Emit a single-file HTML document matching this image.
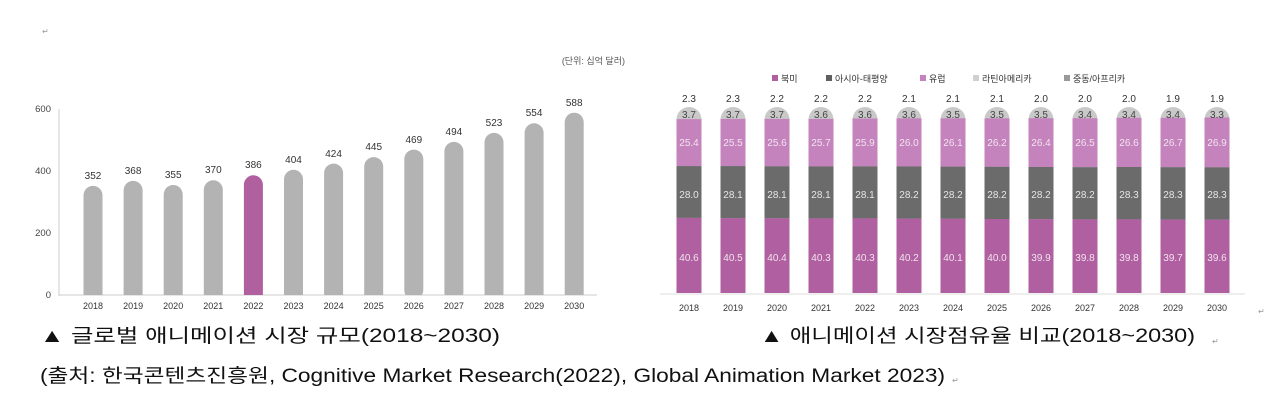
<!DOCTYPE html>
<html><head><meta charset="utf-8"><style>
html,body{margin:0;padding:0;background:#fff;}
svg{display:block;}
text{font-family:"Liberation Sans","Noto Sans CJK KR",sans-serif;}
</style></head><body>
<svg width="1280" height="406" viewBox="0 0 1280 406" xmlns="http://www.w3.org/2000/svg">
<defs>
<clipPath id="lc" clipPathUnits="userSpaceOnUse"><rect x="0" y="0" width="1280" height="295"/></clipPath>
<clipPath id="rc" clipPathUnits="userSpaceOnUse"><path d="M0,119.5 A12.5 12.5 0 0 1 25,119.5 V293 H0 Z"/></clipPath>
</defs>
<text x="42" y="34" font-size="8" fill="#999">↵</text>
<text x="625" y="64" font-size="9" fill="#555" text-anchor="end">(단위: 십억 달러)</text>
<line x1="59" y1="109" x2="59" y2="296" stroke="#ccc"/>
<line x1="59" y1="295" x2="597" y2="295" stroke="#ccc"/>
<g font-size="9.5" fill="#444" text-anchor="end">
<text x="51" y="112">600</text><text x="51" y="174">400</text><text x="51" y="236">200</text><text x="51" y="298">0</text>
</g>
<g clip-path="url(#lc)" fill="#b3b3b3">
<rect x="83.5" y="185.9" width="19" height="130" rx="9.5"/>
<rect x="123.6" y="180.9" width="19" height="130" rx="9.5"/>
<rect x="163.7" y="185" width="19" height="130" rx="9.5"/>
<rect x="203.8" y="180.3" width="19" height="130" rx="9.5"/>
<rect x="243.9" y="175.3" width="19" height="130" rx="9.5" fill="#b0609f"/>
<rect x="284" y="169.8" width="19" height="140" rx="9.5"/>
<rect x="324.1" y="163.6" width="19" height="140" rx="9.5"/>
<rect x="364.2" y="157.1" width="19" height="150" rx="9.5"/>
<rect x="404.3" y="149.6" width="19" height="150" rx="9.5"/>
<rect x="444.4" y="141.9" width="19" height="160" rx="9.5"/>
<rect x="484.5" y="132.9" width="19" height="170" rx="9.5"/>
<rect x="524.6" y="123.3" width="19" height="180" rx="9.5"/>
<rect x="564.7" y="112.7" width="19" height="190" rx="9.5"/>
</g>
<g font-size="10" fill="#333" text-anchor="middle">
<text x="93" y="179">352</text><text x="133.1" y="174">368</text><text x="173.2" y="178">355</text><text x="213.3" y="173">370</text><text x="253.4" y="168">386</text><text x="293.5" y="163">404</text><text x="333.6" y="157">424</text><text x="373.7" y="150">445</text><text x="413.8" y="143">469</text><text x="453.9" y="135">494</text><text x="494" y="126">523</text><text x="534.1" y="116">554</text><text x="574.2" y="106">588</text>
</g>
<g font-size="9" fill="#333" text-anchor="middle">
<text x="93" y="309">2018</text><text x="133.1" y="309">2019</text><text x="173.2" y="309">2020</text><text x="213.3" y="309">2021</text><text x="253.4" y="309">2022</text><text x="293.5" y="309">2023</text><text x="333.6" y="309">2024</text><text x="373.7" y="309">2025</text><text x="413.8" y="309">2026</text><text x="453.9" y="309">2027</text><text x="494" y="309">2028</text><text x="534.1" y="309">2029</text><text x="574.2" y="309">2030</text>
</g>
<g font-size="9" fill="#333">
<rect x="772" y="75" width="6" height="6" fill="#b05fa0"/><text x="781" y="82">북미</text>
<rect x="826" y="75" width="6" height="6" fill="#5f5f5f"/><text x="835" y="82">아시아-태평양</text>
<rect x="920" y="75" width="6" height="6" fill="#c583bd"/><text x="929" y="82">유럽</text>
<rect x="973" y="75" width="6" height="6" fill="#d0d0d0"/><text x="982" y="82">라틴아메리카</text>
<rect x="1064" y="75" width="6" height="6" fill="#999"/><text x="1073" y="82">중동/아프리카</text>
</g>
<line x1="660" y1="294" x2="1245" y2="294" stroke="#ddd"/>
<g>
<g transform="translate(676.5,0)" clip-path="url(#rc)"><rect x="0" y="100" width="25" height="200" fill="#c9c9c9"/><rect y="119.1" width="25" height="47" fill="#c583bd"/><rect y="166.1" width="25" height="51.8" fill="#6b6b6b"/><rect y="217.9" width="25" height="80" fill="#b05fa0"/></g>
<g transform="translate(720.5,0)" clip-path="url(#rc)"><rect x="0" y="100" width="25" height="200" fill="#c9c9c9"/><rect y="118.9" width="25" height="47.2" fill="#c583bd"/><rect y="166.1" width="25" height="52" fill="#6b6b6b"/><rect y="218.1" width="25" height="80" fill="#b05fa0"/></g>
<g transform="translate(764.5,0)" clip-path="url(#rc)"><rect x="0" y="100" width="25" height="200" fill="#c9c9c9"/><rect y="118.9" width="25" height="47.4" fill="#c583bd"/><rect y="166.3" width="25" height="52" fill="#6b6b6b"/><rect y="218.3" width="25" height="80" fill="#b05fa0"/></g>
<g transform="translate(808.5,0)" clip-path="url(#rc)"><rect x="0" y="100" width="25" height="200" fill="#c9c9c9"/><rect y="118.9" width="25" height="47.5" fill="#c583bd"/><rect y="166.4" width="25" height="52" fill="#6b6b6b"/><rect y="218.4" width="25" height="80" fill="#b05fa0"/></g>
<g transform="translate(852.5,0)" clip-path="url(#rc)"><rect x="0" y="100" width="25" height="200" fill="#c9c9c9"/><rect y="118.5" width="25" height="47.9" fill="#c583bd"/><rect y="166.4" width="25" height="52" fill="#6b6b6b"/><rect y="218.4" width="25" height="80" fill="#b05fa0"/></g>
<g transform="translate(896.5,0)" clip-path="url(#rc)"><rect x="0" y="100" width="25" height="200" fill="#c9c9c9"/><rect y="118.3" width="25" height="48.1" fill="#c583bd"/><rect y="166.4" width="25" height="52.2" fill="#6b6b6b"/><rect y="218.6" width="25" height="80" fill="#b05fa0"/></g>
<g transform="translate(940.5,0)" clip-path="url(#rc)"><rect x="0" y="100" width="25" height="200" fill="#c9c9c9"/><rect y="118.3" width="25" height="48.3" fill="#c583bd"/><rect y="166.6" width="25" height="52.2" fill="#6b6b6b"/><rect y="218.8" width="25" height="80" fill="#b05fa0"/></g>
<g transform="translate(984.5,0)" clip-path="url(#rc)"><rect x="0" y="100" width="25" height="200" fill="#c9c9c9"/><rect y="118.3" width="25" height="48.5" fill="#c583bd"/><rect y="166.8" width="25" height="52.2" fill="#6b6b6b"/><rect y="219" width="25" height="80" fill="#b05fa0"/></g>
<g transform="translate(1028.5,0)" clip-path="url(#rc)"><rect x="0" y="100" width="25" height="200" fill="#c9c9c9"/><rect y="118.2" width="25" height="48.8" fill="#c583bd"/><rect y="167" width="25" height="52.2" fill="#6b6b6b"/><rect y="219.2" width="25" height="80" fill="#b05fa0"/></g>
<g transform="translate(1072.5,0)" clip-path="url(#rc)"><rect x="0" y="100" width="25" height="200" fill="#c9c9c9"/><rect y="118.2" width="25" height="49" fill="#c583bd"/><rect y="167.2" width="25" height="52.2" fill="#6b6b6b"/><rect y="219.4" width="25" height="80" fill="#b05fa0"/></g>
<g transform="translate(1116.5,0)" clip-path="url(#rc)"><rect x="0" y="100" width="25" height="200" fill="#c9c9c9"/><rect y="117.8" width="25" height="49.2" fill="#c583bd"/><rect y="167" width="25" height="52.4" fill="#6b6b6b"/><rect y="219.4" width="25" height="80" fill="#b05fa0"/></g>
<g transform="translate(1160.5,0)" clip-path="url(#rc)"><rect x="0" y="100" width="25" height="200" fill="#c9c9c9"/><rect y="117.8" width="25" height="49.4" fill="#c583bd"/><rect y="167.2" width="25" height="52.4" fill="#6b6b6b"/><rect y="219.6" width="25" height="80" fill="#b05fa0"/></g>
<g transform="translate(1204.5,0)" clip-path="url(#rc)"><rect x="0" y="100" width="25" height="200" fill="#c9c9c9"/><rect y="117.5" width="25" height="49.8" fill="#c583bd"/><rect y="167.3" width="25" height="52.4" fill="#6b6b6b"/><rect y="219.7" width="25" height="80" fill="#b05fa0"/></g>
</g>
<g font-size="10" text-anchor="middle" fill="#333">
<text x="689" y="102">2.3</text><text x="733" y="102">2.3</text><text x="777" y="102">2.2</text><text x="821" y="102">2.2</text><text x="865" y="102">2.2</text><text x="909" y="102">2.1</text><text x="953" y="102">2.1</text><text x="997" y="102">2.1</text><text x="1041" y="102">2.0</text><text x="1085" y="102">2.0</text><text x="1129" y="102">2.0</text><text x="1173" y="102">1.9</text><text x="1217" y="102">1.9</text>
</g>
<g font-size="10" text-anchor="middle" fill="#444">
<text x="689" y="118">3.7</text><text x="733" y="118">3.7</text><text x="777" y="118">3.7</text><text x="821" y="118">3.6</text><text x="865" y="118">3.6</text><text x="909" y="118">3.6</text><text x="953" y="118">3.5</text><text x="997" y="118">3.5</text><text x="1041" y="118">3.5</text><text x="1085" y="118">3.4</text><text x="1129" y="118">3.4</text><text x="1173" y="118">3.4</text><text x="1217" y="118">3.3</text>
</g>
<g font-size="10" text-anchor="middle" fill="#f3e3f0">
<text x="689" y="146">25.4</text><text x="733" y="146">25.5</text><text x="777" y="146">25.6</text><text x="821" y="146">25.7</text><text x="865" y="146">25.9</text><text x="909" y="146">26.0</text><text x="953" y="146">26.1</text><text x="997" y="146">26.2</text><text x="1041" y="146">26.4</text><text x="1085" y="146">26.5</text><text x="1129" y="146">26.6</text><text x="1173" y="146">26.7</text><text x="1217" y="146">26.9</text>
<text x="689" y="198" fill="#e6e6e6">28.0</text><text x="733" y="198" fill="#e6e6e6">28.1</text><text x="777" y="198" fill="#e6e6e6">28.1</text><text x="821" y="198" fill="#e6e6e6">28.1</text><text x="865" y="198" fill="#e6e6e6">28.1</text><text x="909" y="198" fill="#e6e6e6">28.2</text><text x="953" y="198" fill="#e6e6e6">28.2</text><text x="997" y="198" fill="#e6e6e6">28.2</text><text x="1041" y="198" fill="#e6e6e6">28.2</text><text x="1085" y="198" fill="#e6e6e6">28.2</text><text x="1129" y="198" fill="#e6e6e6">28.3</text><text x="1173" y="198" fill="#e6e6e6">28.3</text><text x="1217" y="198" fill="#e6e6e6">28.3</text>
<text x="689" y="261">40.6</text><text x="733" y="261">40.5</text><text x="777" y="261">40.4</text><text x="821" y="261">40.3</text><text x="865" y="261">40.3</text><text x="909" y="261">40.2</text><text x="953" y="261">40.1</text><text x="997" y="261">40.0</text><text x="1041" y="261">39.9</text><text x="1085" y="261">39.8</text><text x="1129" y="261">39.8</text><text x="1173" y="261">39.7</text><text x="1217" y="261">39.6</text>
</g>
<g font-size="9" fill="#333" text-anchor="middle">
<text x="689" y="311">2018</text><text x="733" y="311">2019</text><text x="777" y="311">2020</text><text x="821" y="311">2021</text><text x="865" y="311">2022</text><text x="909" y="311">2023</text><text x="953" y="311">2024</text><text x="997" y="311">2025</text><text x="1041" y="311">2026</text><text x="1085" y="311">2027</text><text x="1129" y="311">2028</text><text x="1173" y="311">2029</text><text x="1217" y="311">2030</text>
</g>
<text x="1258" y="314" font-size="8" fill="#999">↵</text>
<text x="40" y="342" font-size="19" fill="#111" textLength="460" lengthAdjust="spacingAndGlyphs">▲ 글로벌 애니메이션 시장 규모(2018~2030)</text>
<text x="760" y="342" font-size="19" fill="#111" textLength="435" lengthAdjust="spacingAndGlyphs">▲ 애니메이션 시장점유율 비교(2018~2030)</text>
<text x="1212" y="344" font-size="8" fill="#999">↵</text>
<text x="40" y="382" font-size="19" fill="#111" textLength="905" lengthAdjust="spacingAndGlyphs">(출처:   한국콘텐츠진흥원, Cognitive Market Research(2022), Global Animation Market 2023)</text>
<text x="952" y="383" font-size="8" fill="#999">↵</text>
</svg>
</body></html>
